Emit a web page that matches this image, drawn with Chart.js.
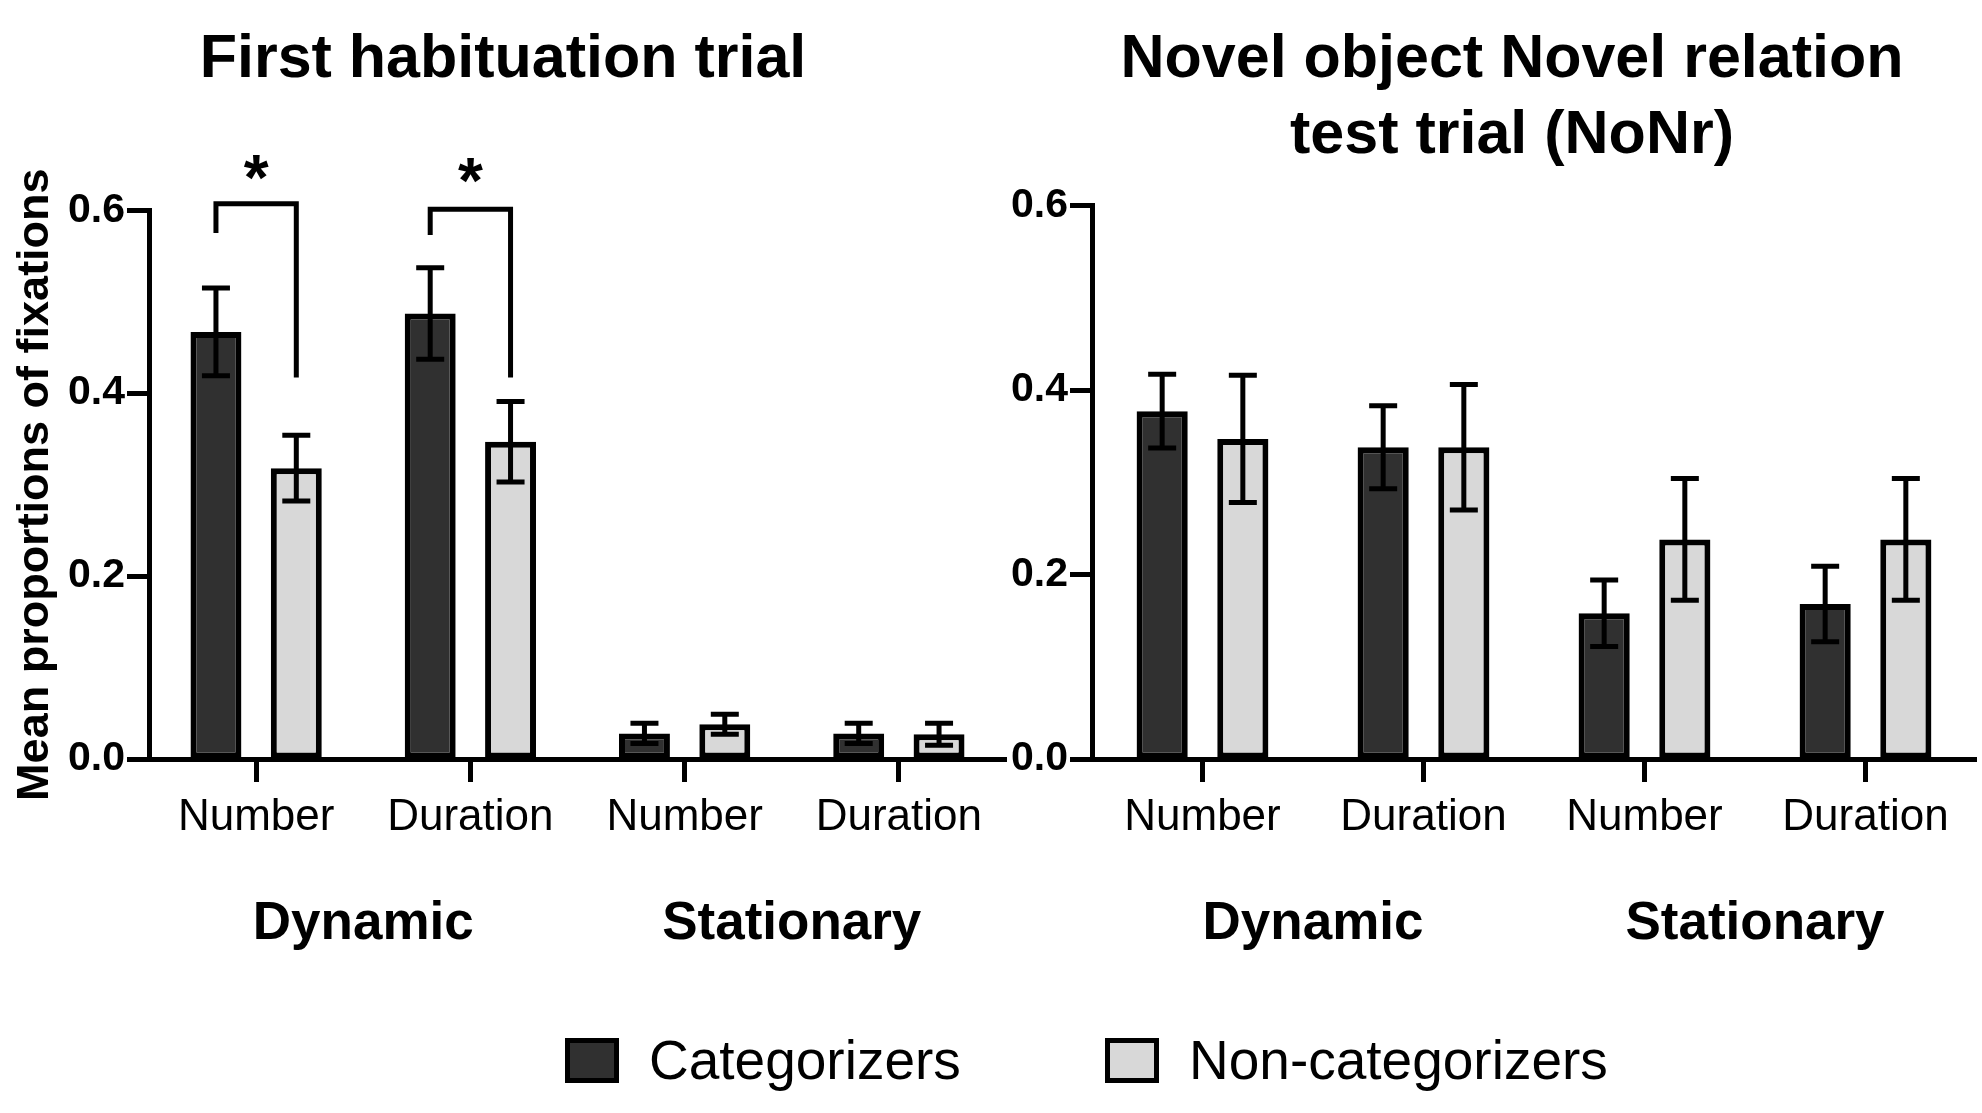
<!DOCTYPE html>
<html>
<head>
<meta charset="utf-8">
<script src="https://cdn.jsdelivr.net/npm/chart.js@4.4.1/dist/chart.umd.min.js"></script>
<style>
  html, body { margin: 0; padding: 0; background: #fff; }
  body { width: 1982px; height: 1113px; overflow: hidden; position: relative; font-family: 'Liberation Sans', Arial, sans-serif; }
  .panel { position: absolute; top: 0; height: 957px; }
  #leftPanel { left: 0; width: 1010px; }
  #rightPanel { left: 1010px; width: 1004px; }
  .legend-item { position: absolute; top: 1030px; height: 60px; display: flex; align-items: center; }
  .legend-box { width: 54px; height: 45px; box-sizing: border-box; border: 5px solid #000; margin-right: 30px; }
  .legend-text { font-size: 55px; line-height: 60px; color: #000; }
</style>
</head>
<body>
<div class="panel" id="leftPanel"><canvas id="habChart"></canvas></div>
<div class="panel" id="rightPanel"><canvas id="testChart"></canvas></div>
<div id="legend"></div>

<script>
// Category and group labels
const categories = ['Number', 'Duration', 'Number', 'Duration'];
const groups = ['Dynamic', 'Stationary'];
const seriesNames = ['Categorizers', 'Non-categorizers'];
const seriesColors = ['#303030', '#d8d8d8'];

// First habituation trial (mean and SEM)
const habCat = [0.467, 0.487, 0.028, 0.028];
const habCatErr = [0.048, 0.050, 0.011, 0.011];
const habNon = [0.318, 0.347, 0.038, 0.027];
const habNonErr = [0.036, 0.044, 0.011, 0.012];

// Novel object Novel relation test trial (mean and SEM)
const testCat = [0.377, 0.338, 0.158, 0.168];
const testCatErr = [0.040, 0.045, 0.036, 0.041];
const testNon = [0.347, 0.338, 0.238, 0.238];
const testNonErr = [0.069, 0.068, 0.066, 0.066];

// y axis range
const yMin = 0;
const yMax = 0.6;
const yStep = 0.2;

// significance brackets (left panel only)
const sigIndex = [0, 1];
const sigTop = [0.607, 0.601];
const sigLeftEnd = [0.575, 0.573];
const sigRightEnd = [0.417, 0.417];
const sigStar = [0.648, 0.644];

const FONT = "'Liberation Sans', Arial, sans-serif";
Chart.defaults.font.family = FONT;
Chart.defaults.color = '#000';

// Draw error bars on top of each bar
const errorBars = {
    id: 'errorBars',
    afterDatasetsDraw(chart) {
        const ctx = chart.ctx;
        const y = chart.scales.y;
        ctx.save();
        ctx.strokeStyle = '#000';
        ctx.lineWidth = 5;
        chart.data.datasets.forEach((ds, di) => {
            const meta = chart.getDatasetMeta(di);
            meta.data.forEach((bar, i) => {
                const v = ds.data[i];
                const e = ds.errors[i];
                const top = y.getPixelForValue(v + e);
                const bot = y.getPixelForValue(Math.max(0, v - e));
                const cap = 14;
                ctx.beginPath();
                ctx.moveTo(bar.x, top);
                ctx.lineTo(bar.x, bot);
                ctx.moveTo(bar.x - cap, top);
                ctx.lineTo(bar.x + cap, top);
                ctx.moveTo(bar.x - cap, bot);
                ctx.lineTo(bar.x + cap, bot);
                ctx.stroke();
            });
        });
        ctx.restore();
    }
};

// Significance brackets with stars
const sigBrackets = {
    id: 'sigBrackets',
    afterDraw(chart, args, opts) {
        if (!opts.show) return;
        const ctx = chart.ctx;
        const y = chart.scales.y;
        const m0 = chart.getDatasetMeta(0);
        const m1 = chart.getDatasetMeta(1);
        ctx.save();
        ctx.strokeStyle = '#000';
        ctx.lineWidth = 5;
        ctx.lineCap = 'butt';
        ctx.lineJoin = 'miter';
        sigIndex.forEach((idx, k) => {
            const x0 = m0.data[idx].x;
            const x1 = m1.data[idx].x;
            ctx.beginPath();
            ctx.moveTo(x0, y.getPixelForValue(sigLeftEnd[k]));
            ctx.lineTo(x0, y.getPixelForValue(sigTop[k]));
            ctx.lineTo(x1, y.getPixelForValue(sigTop[k]));
            ctx.lineTo(x1, y.getPixelForValue(sigRightEnd[k]));
            ctx.stroke();
            ctx.fillStyle = '#000';
            ctx.font = 'bold 64px ' + FONT;
            ctx.textAlign = 'center';
            ctx.textBaseline = 'alphabetic';
            ctx.fillText('*', (x0 + x1) / 2, y.getPixelForValue(sigStar[k]) + 0.52 * 64);
        });
        ctx.restore();
    }
};

function makeDatasets(cat, catErr, non, nonErr, catPct) {
    return [
        { label: seriesNames[0], data: cat, errors: catErr, backgroundColor: seriesColors[0],
          borderColor: '#000', borderWidth: 6, borderSkipped: false,
          categoryPercentage: catPct, barPercentage: 0.634 },
        { label: seriesNames[1], data: non, errors: nonErr, backgroundColor: seriesColors[1],
          borderColor: '#000', borderWidth: 6, borderSkipped: false,
          categoryPercentage: catPct, barPercentage: 0.634 }
    ];
}

function makeChart(canvasId, opts) {
    const ctx = document.getElementById(canvasId).getContext('2d');
    const scales = {
        x: {
            type: 'category',
            position: 'bottom',
            weight: 1,
            offset: true,
            grid: { drawOnChartArea: false, offset: false, drawTicks: true,
                    tickLength: 23, tickWidth: 5, tickColor: '#000' },
            border: { display: true, color: '#000', width: 5 },
            ticks: { font: { size: 44 }, color: '#000', padding: 9, maxRotation: 0, autoSkip: false },
            afterFit: (scale) => { scale.height = 84; }
        },
        x2: {
            type: 'category',
            position: 'bottom',
            weight: 2,
            labels: groups,
            offset: true,
            grid: { display: false, drawTicks: false },
            border: { display: false },
            ticks: { font: { size: 53, weight: 'bold' }, color: '#000', padding: 50, maxRotation: 0 },
            afterFit: (scale) => { scale.height = 114; }
        },
        y: {
            min: yMin,
            max: yMax,
            grid: { drawOnChartArea: false, drawTicks: true, tickLength: 22, tickWidth: 5, tickColor: '#000' },
            border: { display: true, color: '#000', width: 5 },
            ticks: {
                stepSize: yStep,
                padding: 2,
                color: '#000',
                font: { size: 41, weight: 'bold' },
                callback: (v) => Number(v).toFixed(1)
            },
            title: {
                display: opts.yTitle,
                text: 'Mean proportions of fixations',
                color: '#000',
                font: { size: 45, weight: 'bold' },
                padding: { top: 9, bottom: 0 }
            },
            afterFit: (scale) => { scale.width = opts.yWidth; }
        }
    };
    // empty space on the right so the title centres like the original
    if (opts.rightSpace) {
        scales.ySpace = {
            type: 'linear',
            position: 'right',
            grid: { display: false },
            border: { display: false },
            ticks: { display: false },
            afterFit: (scale) => { scale.width = opts.rightSpace; }
        };
    }
    return new Chart(ctx, {
        type: 'bar',
        data: {
            labels: categories,
            datasets: makeDatasets(opts.cat, opts.catErr, opts.non, opts.nonErr, opts.catPct)
        },
        options: {
            responsive: true,
            maintainAspectRatio: false,
            animation: false,
            devicePixelRatio: 1,
            layout: { padding: { left: 0, right: opts.padRight, top: 0, bottom: 0 } },
            scales: scales,
            plugins: {
                legend: { display: false },
                tooltip: { enabled: false },
                title: {
                    display: true,
                    text: opts.title,
                    color: '#000',
                    font: { size: 61, weight: 'bold', lineHeight: 1.25 },
                    padding: { top: 22, bottom: opts.titleBottom }
                },
                sigBrackets: { show: opts.brackets }
            }
        },
        plugins: [errorBars, sigBrackets]
    });
}

makeChart('habChart', {
    cat: habCat, catErr: habCatErr, non: habNon, nonErr: habNonErr,
    catPct: 0.75, padRight: 4, rightSpace: 0, yWidth: 149, yTitle: true,
    title: 'First habituation trial', titleBottom: 112, brackets: true
});

makeChart('testChart', {
    cat: testCat, catErr: testCatErr, non: testNon, nonErr: testNonErr,
    catPct: 0.73, padRight: 0, rightSpace: 38, yWidth: 82, yTitle: false,
    title: ['Novel object Novel relation', 'test trial (NoNr)'], titleBottom: 31, brackets: false
});

// Shared legend below both panels
const legendLeft = [565, 1105];
const legend = document.getElementById('legend');
seriesNames.forEach((name, i) => {
    const item = document.createElement('div');
    item.className = 'legend-item';
    item.style.left = legendLeft[i] + 'px';
    const box = document.createElement('div');
    box.className = 'legend-box';
    box.style.background = seriesColors[i];
    const txt = document.createElement('span');
    txt.className = 'legend-text';
    txt.textContent = name;
    item.appendChild(box);
    item.appendChild(txt);
    legend.appendChild(item);
});
</script>
</body>
</html>
